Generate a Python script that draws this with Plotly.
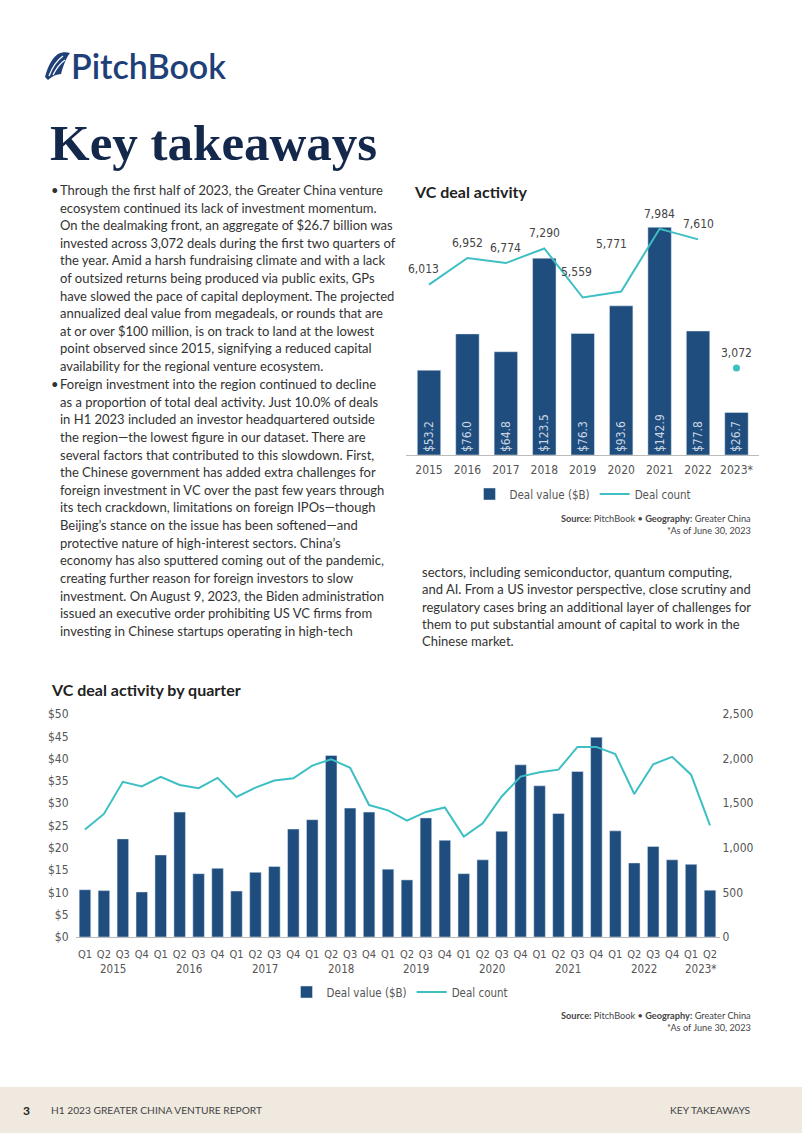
import plotly.graph_objects as go

# ---------------- data ----------------
years = ["2015", "2016", "2017", "2018", "2019", "2020", "2021", "2022", "2023*"]
annual_value = [53.2, 76.0, 64.8, 123.5, 76.3, 93.6, 142.9, 77.8, 26.7]
annual_count = [6013, 6952, 6774, 7290, 5559, 5771, 7984, 7610, 3072]

q_years = ["2015"] * 4 + ["2016"] * 4 + ["2017"] * 4 + ["2018"] * 4 + ["2019"] * 4 + \
          ["2020"] * 4 + ["2021"] * 4 + ["2022"] * 4 + ["2023*"] * 2
q_labels = ["Q1", "Q2", "Q3", "Q4"] * 8 + ["Q1", "Q2"]
q_value = [10.6, 10.4, 22.0, 10.1, 18.4, 28.0, 14.2, 15.4, 10.3, 14.5, 15.8, 24.2,
           26.3, 40.7, 28.9, 28.0, 15.2, 12.8, 26.7, 21.7, 14.2, 17.3, 23.7, 38.6,
           33.9, 27.7, 37.1, 44.8, 23.8, 16.6, 20.3, 17.3, 16.3, 10.5]
q_count = [1205, 1380, 1740, 1688, 1795, 1705, 1668, 1784, 1570, 1675, 1755, 1780,
           1922, 1993, 1896, 1479, 1420, 1305, 1402, 1452, 1125, 1275, 1575, 1798,
           1846, 1876, 2131, 2131, 2050, 1603, 1937, 2020, 1820, 1252]

para1 = [
    "Through the first half of 2023, the Greater China venture",
    "ecosystem continued its lack of investment momentum.",
    "On the dealmaking front, an aggregate of $26.7 billion was",
    "invested across 3,072 deals during the first two quarters of",
    "the year. Amid a harsh fundraising climate and with a lack",
    "of outsized returns being produced via public exits, GPs",
    "have slowed the pace of capital deployment. The projected",
    "annualized deal value from megadeals, or rounds that are",
    "at or over $100 million, is on track to land at the lowest",
    "point observed since 2015, signifying a reduced capital",
    "availability for the regional venture ecosystem.",
]
para2 = [
    "Foreign investment into the region continued to decline",
    "as a proportion of total deal activity. Just 10.0% of deals",
    "in H1 2023 included an investor headquartered outside",
    "the region\u2014the lowest figure in our dataset. There are",
    "several factors that contributed to this slowdown. First,",
    "the Chinese government has added extra challenges for",
    "foreign investment in VC over the past few years through",
    "its tech crackdown, limitations on foreign IPOs\u2014though",
    "Beijing\u2019s stance on the issue has been softened\u2014and",
    "protective nature of high-interest sectors. China\u2019s",
    "economy has also sputtered coming out of the pandemic,",
    "creating further reason for foreign investors to slow",
    "investment. On August 9, 2023, the Biden administration",
    "issued an executive order prohibiting US VC firms from",
    "investing in Chinese startups operating in high-tech",
]
para3 = [
    "sectors, including semiconductor, quantum computing,",
    "and AI. From a US investor perspective, close scrutiny and",
    "regulatory cases bring an additional layer of challenges for",
    "them to put substantial amount of capital to work in the",
    "Chinese market.",
]

# ---------------- style ----------------
W, H = 802, 1133
NAVY = "#1e4d7e"
TEAL = "#3dbfc3"
BODY = "Lato, 'Open Sans', sans-serif"
COND = "'Liberation Sans Narrow', 'DejaVu Sans Condensed', Lato, sans-serif"
TXT = "#333333"
GREY = "#555555"
# label placement tweaks (pixels) for the deal-count labels: (dx, dy)
label_shift = {"2015": (-6, 16), "2019": (-6, 26), "2020": (-10, 47)}


def px(x):
    return x / W


def py(y):
    return 1 - y / H


annotations = []


def text(s, x, y, size=13, color=TXT, family=BODY, xanchor="left", yanchor="middle",
         weight=None):
    f = dict(size=size, color=color, family=family)
    if weight:
        f["weight"] = weight
    annotations.append(dict(text=s, x=px(x), y=py(y), xref="paper", yref="paper",
                            showarrow=False, xanchor=xanchor, yanchor=yanchor, font=f))


fig = go.Figure()

# ---- top chart: annual ----
fig.add_trace(go.Bar(
    x=years, y=annual_value, name="Deal value ($B)", marker_color=NAVY,
    text=[f"${v:.1f}" for v in annual_value], textposition="inside",
    insidetextanchor="start", textangle=-90, constraintext="none",
    textfont=dict(color="#c9d5e3", size=12, family=COND),
    xaxis="x", yaxis="y", legend="legend", hoverinfo="skip"))
fig.add_trace(go.Scatter(
    x=years[:-1], y=annual_count[:-1], name="Deal count", mode="lines",
    line=dict(color=TEAL, width=2), xaxis="x", yaxis="y2", legend="legend"))
fig.add_trace(go.Scatter(
    x=years[-1:], y=annual_count[-1:], mode="markers", showlegend=False,
    marker=dict(color=TEAL, size=7), xaxis="x", yaxis="y2"))

for i, (yr, cnt) in enumerate(zip(years, annual_count)):
    dx, dy = label_shift.get(yr, (0, 15))
    annotations.append(dict(text=f"{cnt:,}", x=i, y=cnt, xref="x", yref="y2",
                            showarrow=False, xanchor="center", yanchor="middle",
                            xshift=dx, yshift=dy,
                            font=dict(color="#444", size=12, family=COND)))

# ---- bottom chart: quarterly ----
q_pos = list(range(len(q_labels)))
fig.add_trace(go.Bar(
    x=q_pos, y=q_value, name="Deal value ($B)", marker_color=NAVY,
    xaxis="x2", yaxis="y3", legend="legend2"))
fig.add_trace(go.Scatter(
    x=q_pos, y=q_count, name="Deal count", mode="lines",
    line=dict(color=TEAL, width=2), xaxis="x2", yaxis="y4", legend="legend2"))

# year group labels under the quarter ticks (centred on each year's quarters)
seen = []
for yv in q_years:
    if yv not in seen:
        seen.append(yv)
for yv in seen:
    idx = [i for i, v in enumerate(q_years) if v == yv]
    annotations.append(dict(text=yv, x=sum(idx) / len(idx), y=py(969), xref="x2",
                            yref="paper", showarrow=False, xanchor="center",
                            yanchor="middle",
                            font=dict(size=11.5, color=GREY, family=COND)))

tickfont = dict(size=12, color=GREY, family=COND)
qtickfont = dict(size=11, color=GREY, family=COND)

fig.update_layout(
    width=W, height=H, autosize=False,
    margin=dict(l=0, r=0, t=0, b=0, pad=0, autoexpand=False),
    paper_bgcolor="white", plot_bgcolor="rgba(0,0,0,0)",
    bargap=0.39, showlegend=True,
    xaxis=dict(type="category", categoryorder="array", categoryarray=years,
               domain=[px(405.5), px(758.5)], anchor="y", showline=True,
               linecolor="#bbbbbb", linewidth=1, ticks="", showgrid=False,
               tickfont=tickfont, fixedrange=True, ticklabelstandoff=4,
               automargin=False),
    yaxis=dict(domain=[py(455), py(200)], range=[0, 160], visible=False,
               fixedrange=True, automargin=False),
    yaxis2=dict(overlaying="y", range=[0, 9000], visible=False, fixedrange=True,
                automargin=False),
    xaxis2=dict(domain=[px(75.5), px(719.5)], anchor="y3", range=[-0.5, len(q_labels) - 0.5],
                tickmode="array", tickvals=q_pos, ticktext=q_labels,
                showline=True, linecolor="#bbbbbb", linewidth=1, ticks="",
                showgrid=False, zeroline=False, tickfont=qtickfont,
                ticklabelstandoff=7, automargin=False, tickangle=0),
    yaxis3=dict(domain=[py(937), py(714)], range=[0, 50], dtick=5, tickprefix="$",
                showgrid=False, zeroline=False, tickfont=tickfont, anchor="x2",
                ticklabelstandoff=6, automargin=False),
    yaxis4=dict(overlaying="y3", side="right", range=[0, 2500], dtick=500,
                tickformat=",", showgrid=False, zeroline=False, tickfont=tickfont,
                anchor="x2", ticklabelstandoff=2, automargin=False),
    legend=dict(orientation="h", x=px(583), y=py(494), xanchor="center",
                yanchor="middle", font=dict(size=11.5, color=GREY, family=COND),
                itemwidth=30, bgcolor="rgba(0,0,0,0)"),
    legend2=dict(orientation="h", x=px(400), y=py(992), xanchor="center",
                 yanchor="middle", font=dict(size=11.5, color=GREY, family=COND),
                 itemwidth=30, bgcolor="rgba(0,0,0,0)"),
)

# ---- page text ----
text("PitchBook", 69, 66, size=34, color="#1e3f78", family="Lato, 'Open Sans'",
     weight=600)
text("<b>Key takeaways</b>", 48, 143, size=51, color="#13284a",
     family="'Liberation Serif', 'DejaVu Serif', serif")

for i, s in enumerate(para1):
    text(s, 58, 190 + i * 17.6)
text("\u2022", 49, 190)
for i, s in enumerate(para2):
    text(s, 58, 384 + i * 17.64)
text("\u2022", 49, 384)
for i, s in enumerate(para3):
    text(s, 420, 572 + i * 17.3)

text("<b>VC deal activity</b>", 412, 192, size=16, color="#222222")
text("<b>VC deal activity by quarter</b>", 49, 689, size=16, color="#222222")

for yy in (518, 1015):
    text("<b>Source:</b> PitchBook \u2022 <b>Geography:</b> Greater China", 753, yy,
         size=9.2, color="#444", xanchor="right")
    text("*As of June 30, 2023", 753, yy + 12, size=9.2, color="#444", xanchor="right")

# footer
text("<b>3</b>", 21, 1110, size=12, color="#222")
text("H1 2023 GREATER CHINA VENTURE REPORT", 49, 1110, size=10.2, color="#444")
text("KEY TAKEAWAYS", 753, 1110, size=10.2, color="#444", xanchor="right")

fig.update_layout(annotations=annotations)

shapes = [
    dict(type="rect", xref="paper", yref="paper", x0=0, x1=1, y0=py(1133), y1=py(1087),
         fillcolor="#efe9e0", line=dict(width=0), layer="below"),
    # logo sail icon
    dict(type="path", xref="paper", yref="paper",
         path=(f"M {px(45)} {py(77)} C {px(48)} {py(66)}, {px(52)} {py(58)}, {px(58)} {py(54)} "
               f"C {px(62)} {py(52)}, {px(66)} {py(52)}, {px(70)} {py(53)} "
               f"C {px(66)} {py(58)}, {px(63)} {py(66)}, {px(61)} {py(74)} "
               f"C {px(57)} {py(74)}, {px(52)} {py(76)}, {px(48)} {py(80)} Z"),
         fillcolor="#1e3f78", line=dict(width=0)),
    dict(type="path", xref="paper", yref="paper",
         path=(f"M {px(49)} {py(76)} C {px(52)} {py(68)}, {px(56)} {py(61)}, {px(63)} {py(56)}"),
         line=dict(color="white", width=1.3)),
    dict(type="path", xref="paper", yref="paper",
         path=(f"M {px(53)} {py(75)} C {px(56)} {py(69)}, {px(59)} {py(64)}, {px(65)} {py(60)}"),
         line=dict(color="white", width=1.3)),
]
fig.update_layout(shapes=shapes)

fig.write_html("out.html", config={"displayModeBar": False},
               post_script="document.body.style.margin='0';"
                           "document.body.style.overflow='hidden';")
